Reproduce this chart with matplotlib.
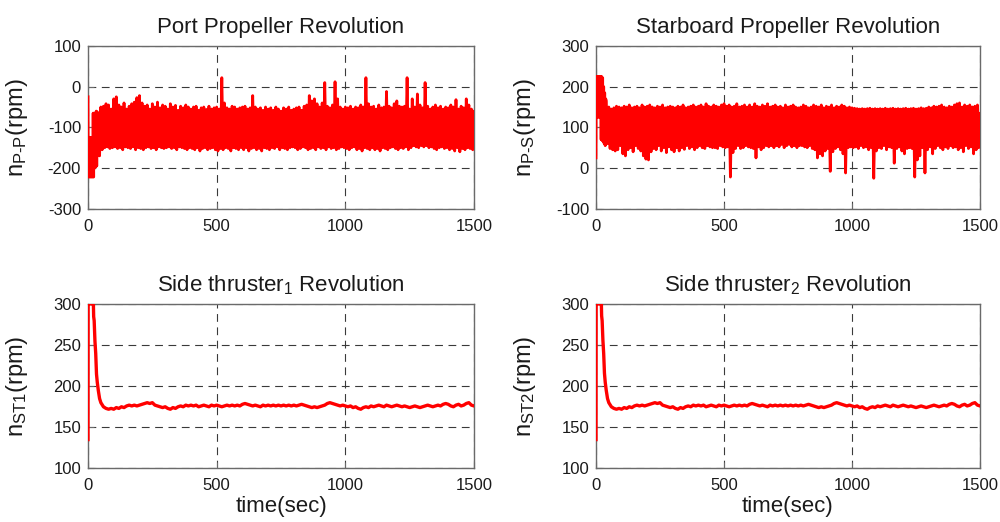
import numpy as np
import matplotlib
matplotlib.use("Agg")
import matplotlib.pyplot as plt

plt.rcParams['font.family'] = ['Liberation Sans', 'DejaVu Sans']
plt.rcParams['mathtext.fontset'] = 'custom'
plt.rcParams['mathtext.rm'] = 'Liberation Sans'
plt.rcParams['mathtext.it'] = 'Liberation Sans:italic'
plt.rcParams['axes.unicode_minus'] = False

# ---------------- data ----------------
# Port propeller: start-up transient (t, rpm)
port_t0 = [0, 0.5, 2, 4, 6, 8, 10, 12, 14, 16, 18, 20, 22, 24, 26, 28, 30, 32, 34, 36, 38]
port_v0 = [-25, -125, -222, -125, -222, -125, -222, -125, -222, -125, -222,
           -65, -222, -65, -200, -65, -197, -60, -195, -62, -170]
# Port propeller: band envelope every 10 s from 40 s to 1500 s
port_upper = [
    -65, -50, -48, -42, -45, -55,
    -30, -25, -45, -50, -40, -55, -48, -42, -38, -27,
    -22, -40, -48, -45, -55, -42, -50, -38, -52, -45,
    -48, -55, -42, -50, -46, -58, -48, -52, -45, -50,
    -55, -50, -48, -58, -52, -50, -56, -48, -55, -52,
    -50, -55, 22, -40, -52, -55, -48, -50, -55, -52,
    -50, -48, -55, -52, -22, -50, -55, -52, -58, -50,
    -55, -52, -58, -50, -55, -60, -52, -55, -50, -58,
    -55, -52, -50, -58, -48, -45, -22, -35, -30, -42,
    -50, -40, 10, -48, -52, -45, 12, -30, -50, -55,
    -50, -52, -48, -55, -50, -52, -45, -50, 22, -42,
    -50, -48, -55, -45, -52, -50, -12, -48, -52, -42,
    -35, -48, -50, -48, 22, -55, -30, -50, -18, -45,
    -52, 10, -48, -55, -50, -45, -52, -48, -55, -50,
    -52, -45, -50, -32, -55, -48, -52, -30, -45, -55,
    -60]
port_lower = [
    -170, -155, -150, -148, -152, -150,
    -148, -152, -150, -155, -148, -150, -152, -148, -155, -150,
    -152, -155, -150, -148, -152, -150, -155, -148, -150, -152,
    -150, -148, -152, -150, -155, -148, -150, -152, -155, -150,
    -152, -155, -150, -158, -152, -150, -155, -152, -150, -155,
    -158, -152, -155, -150, -152, -158, -150, -152, -155, -150,
    -155, -150, -158, -152, -150, -155, -152, -158, -150, -152,
    -155, -150, -152, -148, -155, -150, -152, -155, -150, -148,
    -150, -155, -152, -148, -150, -155, -152, -150, -155, -148,
    -152, -150, -155, -148, -152, -150, -155, -152, -148, -150,
    -152, -155, -150, -148, -155, -152, -158, -150, -152, -155,
    -150, -155, -152, -158, -150, -152, -155, -150, -148, -152,
    -155, -150, -152, -148, -155, -150, -145, -148, -150, -145,
    -148, -145, -150, -148, -152, -155, -150, -148, -152, -150,
    -155, -152, -158, -150, -160, -152, -155, -150, -152, -155,
    -130]

# Starboard propeller: start-up transient (t, rpm)
star_t0 = [0, 0.5, 2, 4, 6, 8, 10, 12, 14, 16, 18, 20, 22, 24, 26, 28, 30, 32, 34, 36, 38]
star_v0 = [25, 125, 225, 125, 225, 125, 225, 125, 225, 125, 225,
           70, 225, 68, 222, 65, 200, 60, 185, 55, 170]
# Starboard propeller: band envelope every 10 s from 40 s to 1500 s
star_upper = [
    165, 150, 145, 148, 152, 150,
    148, 152, 150, 155, 148, 150, 152, 148, 155, 150,
    152, 155, 150, 148, 152, 150, 155, 148, 150, 152,
    150, 148, 152, 150, 155, 148, 150, 152, 155, 150,
    152, 155, 150, 158, 152, 150, 155, 152, 150, 155,
    158, 152, 155, 150, 152, 158, 150, 152, 155, 150,
    155, 150, 158, 152, 150, 155, 152, 158, 150, 152,
    155, 150, 152, 148, 155, 150, 152, 155, 150, 148,
    150, 155, 152, 148, 150, 155, 152, 150, 155, 148,
    152, 150, 155, 148, 152, 150, 155, 152, 148, 150,
    148, 147, 146, 145, 146, 145, 146, 147, 145, 146,
    145, 146, 145, 147, 145, 146, 147, 145, 146, 145,
    146, 147, 145, 146, 147, 145, 146, 148, 146, 147,
    150, 148, 152, 150, 152, 155, 150, 148, 152, 150,
    155, 158, 160, 150, 155, 152, 155, 150, 152, 155,
    135]
star_lower = [
    60, 48, 45, 42, 45, 55,
    35, 30, 45, 50, 40, 55, 48, 42, 30, 22,
    20, 40, 48, 45, 55, 42, 50, 38, 52, 45,
    40, 50, 42, 50, 46, 55, 48, 52, 45, 50,
    55, 50, 48, 55, 52, 50, 50, 48, 55, 52,
    50, 52, -22, 38, 48, 55, 48, 50, 55, 52,
    50, 48, 25, 52, 45, 50, 55, 52, 55, 50,
    55, 52, 58, 50, 55, 58, 52, 55, 50, 55,
    55, 52, 50, 55, 48, 45, 25, 35, 30, 42,
    48, -8, 40, 48, 52, 45, 35, -12, 50, 52,
    50, 52, 48, 55, 50, 52, 45, 50, -25, 42,
    50, 48, 55, 45, 52, 50, 12, 48, 52, 42,
    35, 48, 50, 48, -22, 20, 30, 50, -12, 45,
    52, 35, 48, 55, 50, 45, 52, 48, 55, 50,
    52, 45, 50, 40, 55, 48, 52, 35, 45, 50,
    55]

env_t = np.arange(40, 1501, 10)

# Side thrusters (t, rpm)
st_t = [0, 0.5, 2, 21, 22, 24, 27, 30, 33, 36, 40, 45, 50, 60, 70] + list(range(80, 1501, 10))
st1_v = [135, 301, 301, 300, 285, 280, 255, 240, 215, 205, 195, 185, 180, 175, 173,
    172, 173, 172, 174, 173, 175, 174, 176, 177, 176, 177, 176,
    177, 178, 179, 180, 179, 180, 177, 176, 175, 174,
    175, 173, 172, 174, 173, 175, 176, 175, 177, 176,
    177, 176, 177, 175, 176, 177, 176, 175, 177, 176,
    177, 176, 175, 176, 177, 176, 177, 176, 177, 176,
    178, 179, 178, 177, 176, 177, 176, 175, 177, 176,
    177, 176, 177, 176, 177, 176, 177, 176, 177, 176,
    177, 176, 177, 178, 177, 176, 175, 174, 175, 174,
    175, 176, 177, 179, 180, 179, 178, 177, 176, 177,
    176, 175, 176, 174, 175, 173, 172, 174, 175, 174,
    176, 175, 176, 177, 176, 175, 177, 176, 175, 176,
    177, 176, 175, 176, 175, 174, 175, 176, 175, 174,
    175, 176, 177, 176, 175, 176, 177, 176, 178, 179,
    178, 176, 175, 177, 178, 176, 177, 179, 180, 177,
    176]
st2_v = [135, 301, 301, 300, 286, 280, 256, 240, 216, 205, 195, 185, 180, 175, 173,
    172, 173, 172, 174, 173, 175, 174, 176, 177, 176, 177, 176,
    177, 178, 179, 180, 179, 180, 177, 176, 175, 174,
    175, 173, 172, 174, 173, 175, 176, 175, 177, 176,
    177, 176, 177, 175, 176, 177, 176, 175, 177, 176,
    177, 176, 175, 176, 177, 176, 177, 176, 177, 176,
    178, 179, 178, 177, 176, 177, 176, 175, 177, 176,
    177, 176, 177, 176, 177, 176, 177, 176, 177, 176,
    177, 176, 177, 178, 177, 176, 175, 174, 175, 174,
    175, 176, 177, 179, 180, 179, 178, 177, 176, 177,
    176, 175, 176, 174, 175, 173, 172, 174, 175, 174,
    176, 175, 176, 177, 176, 175, 177, 176, 175, 176,
    177, 176, 175, 176, 175, 174, 175, 176, 175, 174,
    175, 176, 177, 176, 175, 176, 177, 176, 178, 179,
    178, 176, 175, 177, 178, 176, 177, 179, 180, 177,
    176]

titles = ['Port Propeller Revolution', 'Starboard Propeller Revolution',
          r'Side thruster$_{\mathrm{1}}$ Revolution', r'Side thruster$_{\mathrm{2}}$ Revolution']
ylabels = [r'n$_{\mathrm{P\text{-}P}}$(rpm)', r'n$_{\mathrm{P\text{-}S}}$(rpm)',
           r'n$_{\mathrm{ST1}}$(rpm)', r'n$_{\mathrm{ST2}}$(rpm)']
yticks = [[-300, -200, -100, 0, 100], [-100, 0, 100, 200, 300],
          [100, 150, 200, 250, 300], [100, 150, 200, 250, 300]]
xticks = [0, 500, 1000, 1500]


def band_series(t0, v0, upper, lower):
    # interleave peak and trough readings into one oscillating trace
    xs = list(t0)
    ys = list(v0)
    for t, u, l in zip(env_t, upper, lower):
        xs += [t, t + 5]
        ys += [u, l]
    return np.array(xs), np.array(ys)


series = [
    band_series(port_t0, port_v0, port_upper, port_lower),
    band_series(star_t0, star_v0, star_upper, star_lower),
    (np.array(st_t), np.array(st1_v)),
    (np.array(st_t), np.array(st2_v)),
]
lws = [2.0, 2.0, 2.4, 2.4]

fig = plt.figure(figsize=(10, 5.22), dpi=100)
positions = [
    [0.088, 0.600, 0.386, 0.312],
    [0.596, 0.600, 0.384, 0.312],
    [0.088, 0.103, 0.386, 0.314],
    [0.596, 0.103, 0.384, 0.314],
]
edge = '#6a6a6a'
for i in range(4):
    ax = fig.add_axes(positions[i])
    x, y = series[i]
    ax.plot(x, y, color='#ff0000', lw=lws[i], solid_joinstyle='round', zorder=3)
    ax.set_xlim(0, 1500)
    ax.set_ylim(yticks[i][0], yticks[i][-1])
    ax.set_xticks(xticks)
    ax.set_yticks(yticks[i])
    ax.grid(True, color='#3a3a3a', lw=0.8, linestyle=(0, (7, 5)), zorder=1)
    for s in ax.spines.values():
        s.set_color(edge)
        s.set_linewidth(1.0)
    ax.tick_params(direction='in', length=4, width=0.8, color=edge,
                   labelsize=12, labelcolor='#1a1a1a', pad=5)
    ax.tick_params(axis='x', pad=7)
    ax.set_title(titles[i], fontsize=16, color='#1a1a1a', pad=9)
    ax.set_ylabel(ylabels[i], fontsize=17, color='#1a1a1a')
    ax.yaxis.set_label_coords(-0.15, 0.5)
    if i >= 2:
        ax.set_xlabel('time(sec)', fontsize=16, color='#1a1a1a', labelpad=2)

fig.savefig('out.png', dpi=100)
